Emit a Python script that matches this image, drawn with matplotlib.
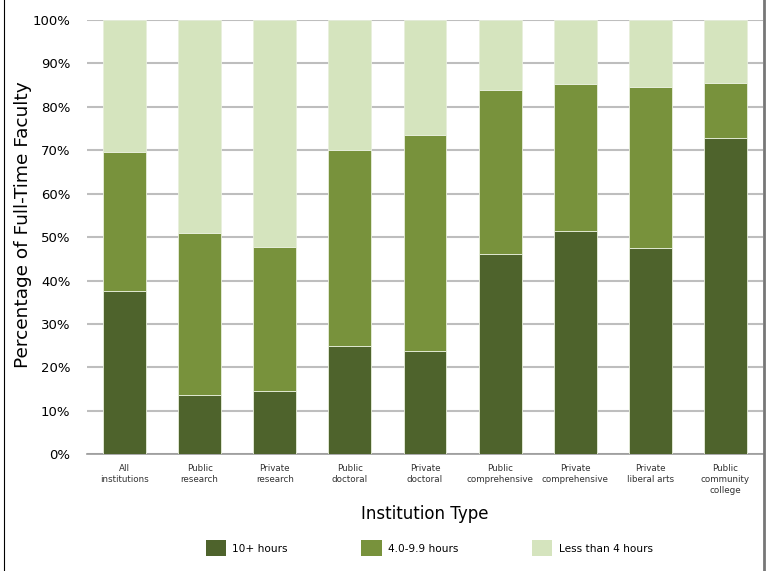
import matplotlib
matplotlib.use("Agg")
import matplotlib.pyplot as plt
from matplotlib.patches import Patch
from matplotlib.lines import Line2D
import numpy as np

plt.rcParams['font.family'] = ['DejaVu Sans']

# Data (percent of full-time faculty)
categories = ['All\ninstitutions', 'Public\nresearch', 'Private\nresearch',
              'Public\ndoctoral', 'Private\ndoctoral', 'Public\ncomprehensive',
              'Private\ncomprehensive', 'Private\nliberal arts',
              'Public\ncommunity\ncollege']
hours_10_plus = [37.7, 13.6, 14.5, 24.9, 23.7, 46.2, 51.3, 47.6, 72.9]
hours_4_to_10 = [32.0, 37.4, 33.3, 45.2, 49.8, 37.6, 33.9, 37.0, 12.7]
hours_under_4 = [30.3, 49.0, 52.2, 29.9, 26.5, 16.2, 14.8, 15.4, 14.4]
series_labels = ['10+ hours', '4.0-9.9 hours', 'Less than 4 hours']
colors = ['#4E632C', '#78923C', '#D5E4BE']

fig = plt.figure(figsize=(7.69, 5.71), dpi=100)
ax = fig.add_axes([0.1131, 0.2044, 0.8791, 0.7606])

x = np.arange(len(categories))
bottom = np.zeros(len(categories))
for vals, col in zip([hours_10_plus, hours_4_to_10, hours_under_4], colors):
    ax.bar(x, vals, width=0.57, bottom=bottom, color=col,
           edgecolor='#E8EFDC', linewidth=0.6, zorder=3)
    bottom += np.array(vals)

ax.set_xlim(-0.5, len(categories) - 0.5)
ax.set_ylim(0, 100)
ax.set_yticks(np.arange(0, 101, 10))
ax.set_yticklabels([f'{v}%' for v in range(0, 101, 10)], fontsize=9.5)
ax.set_xticks(x)
ax.set_xticklabels(categories, fontsize=6.3, color='#333333', linespacing=1.3)
ax.tick_params(axis='both', length=0)
ax.tick_params(axis='y', pad=12)
ax.tick_params(axis='x', pad=7)
ax.yaxis.grid(True, color='#BEBEBE', linewidth=1.5, zorder=0)
ax.set_axisbelow(True)
for s in ['top', 'right', 'left']:
    ax.spines[s].set_visible(False)
ax.spines['bottom'].set_color('#9A9A9A')
ax.spines['bottom'].set_linewidth(1.2)

ax.set_ylabel('Percentage of Full-Time Faculty', fontsize=13.3)
ax.yaxis.set_label_coords(-0.081, 0.528)
ax.set_xlabel('Institution Type', fontsize=12, labelpad=7)

handles = [Patch(facecolor=c, edgecolor='none') for c in colors]
fig.legend(handles, series_labels, loc='center', bbox_to_anchor=(0.558, 0.040),
           ncol=3, frameon=False, fontsize=7.6, handlelength=1.9, handleheight=1.9,
           handletextpad=0.6, columnspacing=7.0)

# figure border lines
fig.add_artist(Line2D([3.5 / 769, 3.5 / 769], [0, 1], color='black', linewidth=0.8))
fig.add_artist(Line2D([763.5 / 769, 763.5 / 769], [0, 1], color='#777777', linewidth=2))

fig.savefig('out.png', dpi=100)
